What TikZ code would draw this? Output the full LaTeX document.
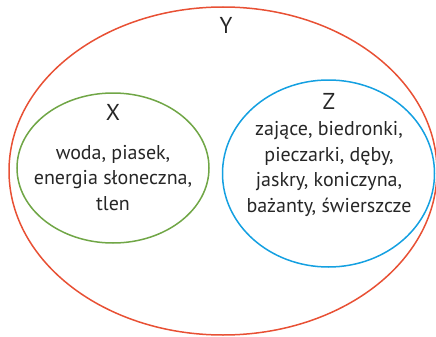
\documentclass[tikz,border=0pt]{standalone}
\usepackage{fontspec}
\setmainfont{PT Sans}
\definecolor{cred}{RGB}{232,80,52}
\definecolor{cgreen}{RGB}{112,166,70}
\definecolor{cblue}{RGB}{20,160,225}
\begin{document}
\begin{tikzpicture}[x=1pt,y=-1pt,
  ring/.style={line width=1.5pt},
  setlabel/.style={font=\fontsize{23}{26}\selectfont, text=black!85},
  items/.style={font=\fontsize{20}{25.5}\selectfont, align=center, text=black!85}]
\useasboundingbox (0,0) rectangle (436,337);
\draw[ring,cred] (223,171) ellipse [x radius=214, y radius=164];
\draw[ring,cgreen] (113,168) ellipse [x radius=96, y radius=75];
\draw[ring,cblue] (328.5,173.5) ellipse [x radius=106, y radius=93.5];
\node[setlabel] (Y) at (226,25) {Y};
\node[setlabel] (X) at (113,112) {X};
\node[setlabel] (Z) at (329,101) {Z};
\node[items] (xi) at (113,178) {woda, piasek,\\energia słoneczna,\\tlen};
\node[items] (zi) at (329,169) {zające, biedronki,\\pieczarki, dęby,\\jaskry, koniczyna,\\bażanty, świerszcze};
\end{tikzpicture}
\end{document}
